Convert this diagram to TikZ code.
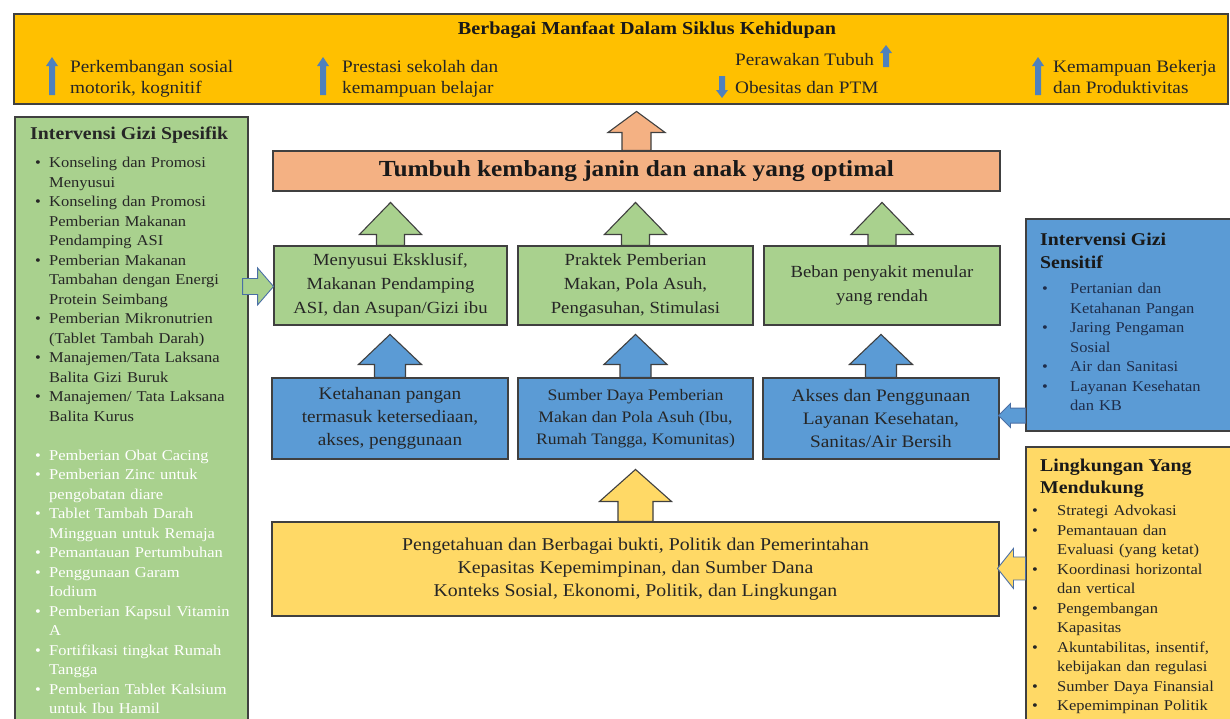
\documentclass[tikz,border=0pt]{standalone}
\usepackage{fontspec}
\setmainfont{Liberation Serif}[FakeStretch=1.1]
\usetikzlibrary{calc}
\definecolor{banner}{HTML}{FFC000}
\definecolor{grn}{HTML}{A9D18E}
\definecolor{salm}{HTML}{F4B183}
\definecolor{blu}{HTML}{5B9BD5}
\definecolor{yel}{HTML}{FFD966}
\definecolor{edge}{HTML}{404040}
\definecolor{arrblue}{HTML}{4F81BD}
\definecolor{outl}{HTML}{4A6FA5}
\definecolor{txtd}{HTML}{262626}
\definecolor{navy}{HTML}{1F2D4A}

\newcommand{\BItem}[2]{\par\hangindent=#1\hangafter=1\noindent\strut\makebox[#1][l]{\textbullet}#2}
\newcommand{\BItemW}[2]{\par\hangindent=#1\hangafter=1\noindent\color{white}\strut\makebox[#1][l]{\textbullet}#2}
% block arrow, base at #2, pointing up
\newcommand{\ArrUpB}[6]{\draw[#1] (#2) ++(-#3,0) -- ++(0,-#5) -- ++(#3-#4,0) -- ++(#4,-#6) -- ++(#4,#6) -- ++(#3-#4,0) -- ++(0,#5) -- cycle;}
% block arrow, base at #2, pointing left
\newcommand{\ArrLeftB}[6]{\draw[#1] (#2) ++(0,-#3) -- ++(-#5,0) -- ++(0,#3-#4) -- ++(-#6,#4) -- ++(#6,#4) -- ++(0,#3-#4) -- ++(#5,0) -- cycle;}
% block arrow, base at #2, pointing right
\newcommand{\ArrRightB}[6]{\draw[#1] (#2) ++(0,-#3) -- ++(#5,0) -- ++(0,#3-#4) -- ++(#6,#4) -- ++(-#6,#4) -- ++(0,#3-#4) -- ++(-#5,0) -- cycle;}
% small arrows, tip at #2
\newcommand{\ArrUpT}[6]{\fill[#1] (#2) -- ++(#4,#6) -- ++(#3-#4,0) -- ++(0,#5-#6) -- ++(-2*#3,0) -- ++(0,#6-#5) -- ++(#3-#4,0) -- cycle;}
\newcommand{\ArrDownT}[6]{\fill[#1] (#2) -- ++(#4,-#6) -- ++(#3-#4,0) -- ++(0,#6-#5) -- ++(-2*#3,0) -- ++(0,#5-#6) -- ++(#3-#4,0) -- cycle;}

\begin{document}
\begin{tikzpicture}[x=1pt,y=-1pt,
  box/.style={draw=edge, line width=1.1pt, inner sep=0pt, align=center},
  ctext/.style={text=txtd, font={\fontsize{17}{24}\selectfont}},
  btext/.style={text=black!85, font={\fontsize{17.5}{23}\selectfont}},
  bantext/.style={anchor=north west, inner sep=0pt, align=left, text=black!85, font={\fontsize{17.5}{21}\selectfont}},
  ttl/.style={anchor=north west, inner sep=0pt, align=left, font={\bfseries\fontsize{18}{22}\selectfont}},
  lst/.style={anchor=north west, inner sep=0pt, font={\fontsize{15}{19.5}\selectfont}},
  gbar/.style={draw=edge, line width=1.1pt},
  smallarr/.style={fill=arrblue}
]
\useasboundingbox (0,0) rectangle (1230,718);
\fill[white] (0,0) rectangle (1230,718);

% banner
\node[box, fill=banner, line width=1.6pt, minimum width=1214, minimum height=90] (ban) at (621,59) {};
\node[inner sep=0pt, text=black!90, font={\bfseries\fontsize{18.3}{22}\selectfont}] (bant) at (647,30) {Berbagai Manfaat Dalam Siklus Kehidupan};
\node[bantext] (b1t) at (70,57.8) {\strut Perkembangan sosial\\motorik, kognitif};
\node[bantext] (b2t) at (342,57.8) {\strut Prestasi sekolah dan\\kemampuan belajar};
\node[bantext, font={\fontsize{17.5}{28}\selectfont}] (b3t) at (735,45.9) {\strut Perawakan Tubuh\\Obesitas dan PTM};
\node[bantext] (b4t) at (1053,57.8) {\strut Kemampuan Bekerja\\dan Produktivitas};
\ArrUpT{smallarr}{52,57}{3}{6}{38}{9}
\ArrUpT{smallarr}{323,57}{3}{6}{38}{9}
\ArrUpT{smallarr}{886,45}{3}{6}{22}{8}
\ArrDownT{smallarr}{722,98}{3}{6}{22}{8}
\ArrUpT{smallarr}{1038,57}{3}{6}{38}{9}

% left panel
\node[box, fill=grn, minimum width=233, minimum height=610] (spes) at (131.5,422) {};
\node[ttl, text=txtd] (spest) at (30,123.6) {\strut Intervensi Gizi Spesifik};
\node[lst, text=txtd, text width=230] (spesl) at (35,147.85) {%
\BItem{14pt}{Konseling dan Promosi\newline Menyusui}
\BItem{14pt}{Konseling dan Promosi\newline Pemberian Makanan\newline Pendamping ASI}
\BItem{14pt}{Pemberian Makanan\newline Tambahan dengan Energi\newline Protein Seimbang}
\BItem{14pt}{Pemberian Mikronutrien\newline (Tablet Tambah Darah)}
\BItem{14pt}{Manajemen/Tata Laksana\newline Balita Gizi Buruk}
\BItem{14pt}{Manajemen/ Tata Laksana\newline Balita Kurus}
\par\vspace{19.5pt}
\BItemW{14pt}{Pemberian Obat Cacing}
\BItemW{14pt}{Pemberian Zinc untuk\newline pengobatan diare}
\BItemW{14pt}{Tablet Tambah Darah\newline Mingguan untuk Remaja}
\BItemW{14pt}{Pemantauan Pertumbuhan}
\BItemW{14pt}{Penggunaan Garam\newline Iodium}
\BItemW{14pt}{Pemberian Kapsul Vitamin\newline A}
\BItemW{14pt}{Fortifikasi tingkat Rumah\newline Tangga}
\BItemW{14pt}{Pemberian Tablet Kalsium\newline untuk Ibu Hamil}\par};

% right panels
\node[box, fill=blu, minimum width=206, minimum height=212] (sens) at (1129,325) {};
\node[ttl, text=black!90, font={\bfseries\fontsize{18}{23}\selectfont}] (senst) at (1040,228.9) {\strut Intervensi Gizi\\Sensitif};
\node[lst, text=navy, text width=185] (sensl) at (1042,273.85) {%
\BItem{28pt}{Pertanian dan\newline Ketahanan Pangan}
\BItem{28pt}{Jaring Pengaman\newline Sosial}
\BItem{28pt}{Air dan Sanitasi}
\BItem{28pt}{Layanan Kesehatan\newline dan KB}\par};

\node[box, fill=yel, minimum width=206, minimum height=278] (ling) at (1129,586) {};
\node[ttl, text=black!90] (lingt) at (1040,455.6) {\strut Lingkungan Yang\\Mendukung};
\node[lst, text=txtd, text width=195] (lingl) at (1032,495.85) {%
\BItem{25pt}{Strategi Advokasi}
\BItem{25pt}{Pemantauan dan\newline Evaluasi (yang ketat)}
\BItem{25pt}{Koordinasi horizontal\newline dan vertical}
\BItem{25pt}{Pengembangan\newline Kapasitas}
\BItem{25pt}{Akuntabilitas, insentif,\newline kebijakan dan regulasi}
\BItem{25pt}{Sumber Daya Finansial}
\BItem{25pt}{Kepemimpinan Politik}\par};

% center
\node[box, fill=salm, minimum width=727, minimum height=40, text=black!90, font={\bfseries\fontsize{23}{27}\selectfont}] (salb) at (636.5,171) {Tumbuh kembang janin dan anak yang optimal};

\node[box, ctext, fill=grn, minimum width=233, minimum height=79] (g1) at (390.5,285.5) {Menyusui Eksklusif,\\Makanan Pendamping\\ASI, dan Asupan/Gizi ibu};
\node[box, ctext, fill=grn, minimum width=235, minimum height=79] (g2) at (635.5,285.5) {Praktek Pemberian\\Makan, Pola Asuh,\\Pengasuhan, Stimulasi};
\node[box, ctext, fill=grn, minimum width=236, minimum height=79] (g3) at (882,285.5) {Beban penyakit menular\\yang rendah};

\node[box, btext, fill=blu, minimum width=236, minimum height=81] (b1) at (390,418.5) {Ketahanan pangan\\termasuk ketersediaan,\\akses, penggunaan};
\node[box, btext, fill=blu, minimum width=235, minimum height=81, font={\fontsize{16}{22}\selectfont}] (b2) at (635.5,418.5) {Sumber Daya Pemberian\\Makan dan Pola Asuh (Ibu,\\Rumah Tangga, Komunitas)};
\node[box, btext, fill=blu, minimum width=236, minimum height=81] (b3) at (881,418.5) {Akses dan Penggunaan\\Layanan Kesehatan,\\Sanitas/Air Bersih};

\node[box, fill=yel, minimum width=727, minimum height=94, text=black!85, font={\fontsize{18}{23}\selectfont}] (yelb) at (635.5,569) {Pengetahuan dan Berbagai bukti, Politik dan Pemerintahan\\Kepasitas Kepemimpinan, dan Sumber Dana\\Konteks Sosial, Ekonomi, Politik, dan Lingkungan};

% block arrows
\ArrUpB{gbar, fill=salm}{salb.north}{14.5}{28.5}{18}{21}
\ArrUpB{gbar, fill=grn}{g1.north}{14}{31}{11}{32}
\ArrUpB{gbar, fill=grn}{g2.north}{14}{31}{11}{32}
\ArrUpB{gbar, fill=grn}{g3.north}{14}{31}{11}{32}
\ArrUpB{gbar, fill=blu}{b1.north}{15.5}{31.5}{13}{30}
\ArrUpB{gbar, fill=blu}{b2.north}{15.5}{31.5}{13}{30}
\ArrUpB{gbar, fill=blu}{b3.north}{15.5}{31.5}{13}{30}
\ArrUpB{gbar, fill=yel}{yelb.north}{17.5}{36}{20}{32}

\ArrRightB{draw=outl, line width=0.9pt, fill=grn}{$(spes.north east)+(-6,170)$}{8}{18.5}{15}{16}
\ArrLeftB{draw=outl, line width=0.9pt, fill=blu}{$(sens.south west)+(0,-16)$}{7.5}{12}{15}{12}
\ArrLeftB{draw=outl, line width=0.9pt, fill=yel}{$(ling.north west)+(0,122)$}{11.5}{20}{12}{16}
\end{tikzpicture}
\end{document}
